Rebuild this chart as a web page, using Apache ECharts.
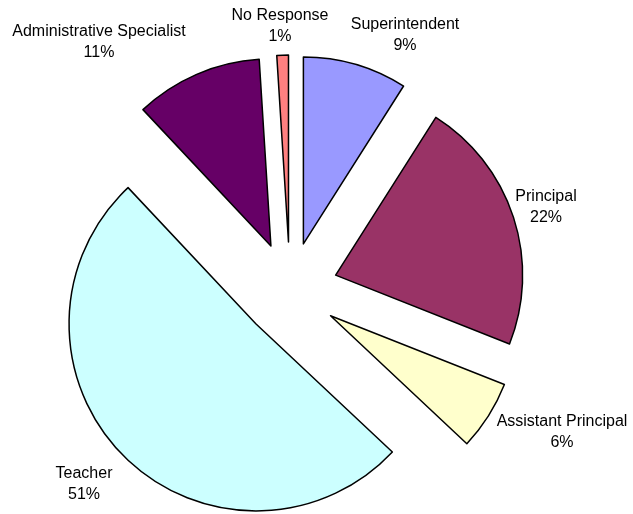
<!DOCTYPE html>
<html>
<head>
<meta charset="utf-8">
<script src="https://cdn.jsdelivr.net/npm/echarts@6/dist/echarts.min.js"></script>
<style>
  html, body { margin: 0; padding: 0; background: #fff; }
  #chart { width: 633px; height: 514px; }
</style>
</head>
<body>
<div id="chart"></div>
<script>
// Survey respondents by position (percent of total)
const positions = ['Superintendent', 'Principal', 'Assistant Principal', 'Teacher', 'Administrative Specialist', 'No Response'];
const shares = [9, 22, 6, 51, 11, 1];
const sliceColors = ['#9999FF', '#993366', '#FFFFCC', '#CCFFFF', '#660066', '#FF8080'];

// Centre point of each two-line label block
const labelAnchors = [[405, 35], [546, 207], [562, 432], [84, 484], [99, 42], [280, 26]];

const chart = echarts.init(document.getElementById('chart'), null, { renderer: 'canvas' });

const sliceData = positions.map((name, i) => ({
  name: name,
  value: shares[i],
  selected: true,
  itemStyle: { color: sliceColors[i] }
}));

// Category name over its percentage, placed beside each exploded slice
const labelTexts = positions.map((name, i) => ({
  type: 'text',
  x: labelAnchors[i][0],
  y: labelAnchors[i][1],
  silent: true,
  style: {
    text: name + '\n' + shares[i] + '%',
    align: 'center',
    verticalAlign: 'middle',
    fontFamily: 'Liberation Sans, Arial, sans-serif',
    fontSize: 16,
    lineHeight: 21,
    fill: '#000'
  }
}));

chart.setOption({
  animation: false,
  graphic: labelTexts,
  series: [{
    type: 'pie',
    center: [290, 290],
    radius: [0, 187],
    startAngle: 90,
    clockwise: true,
    selectedMode: 'multiple',
    selectedOffset: 48,
    itemStyle: { borderColor: '#000', borderWidth: 1.5 },
    select: { itemStyle: { borderColor: '#000', borderWidth: 1.5 } },
    emphasis: { disabled: true },
    label: { show: false },
    labelLine: { show: false },
    data: sliceData
  }]
});
</script>
</body>
</html>
